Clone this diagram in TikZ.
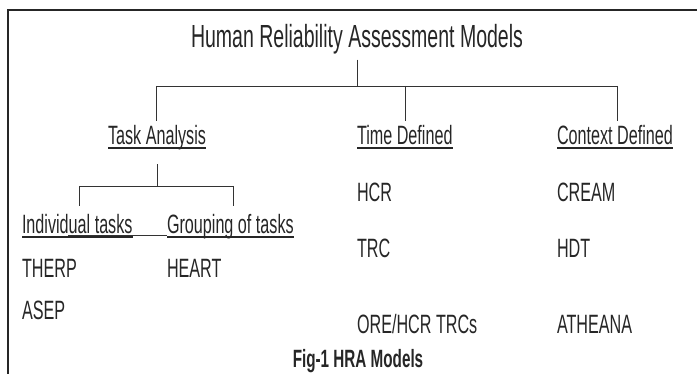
\documentclass[tikz,border=0pt]{standalone}
\usepackage{fontspec}
\setmainfont[FakeStretch=0.61]{Liberation Sans}
\begin{document}
\begin{tikzpicture}[x=1pt,y=-1pt,
  lbl/.style={inner sep=0pt,outer sep=0pt,text=black!85,font=\fontsize{26.5}{26.5}\selectfont},
  head/.style={lbl},
  uline/.style={line width=1.6pt,black!85},
  tree/.style={line width=0.8pt,black!80},
  frame/.style={line width=1.2pt,black!85}]
\useasboundingbox (0,0) rectangle (697,374);
% open frame: left and top edges only
\coordinate (fbl) at (8,374);
\coordinate (ftl) at (8,10);
\coordinate (ftr) at (697,10);
\draw[frame] (fbl) -- (ftl) -- (ftr);

% headings
\node[lbl,anchor=base,font=\fontsize{32}{32}\selectfont] (title) at (357,48) {Human Reliability Assessment Models};
\node[head,anchor=base] (ta) at (157,145) {Task Analysis};
\node[head,anchor=base west] (td) at (357,145) {Time Defined};
\node[head,anchor=base west] (cd) at (557,145) {Context Defined};
\node[head,anchor=base west] (it) at (22,234) {Individual tasks};
\node[head,anchor=base west] (gt) at (167,234) {Grouping of tasks};

% model lists
\node[lbl,anchor=base west] (therp) at (22,278) {THERP};
\node[lbl,anchor=base west] (asep) at (22,320) {ASEP};
\node[lbl,anchor=base west] (heart) at (167,278) {HEART};
\node[lbl,anchor=base west] (hcr) at (357,202) {HCR};
\node[lbl,anchor=base west] (trc) at (357,258) {TRC};
\node[lbl,anchor=base west] (ore) at (357,334) {ORE/HCR TRCs};
\node[lbl,anchor=base west] (cream) at (557,202) {CREAM};
\node[lbl,anchor=base west] (hdt) at (557,258) {HDT};
\node[lbl,anchor=base west] (ath) at (557,334) {ATHEANA};

% caption
\node[lbl,anchor=base,font=\fontsize{25}{25}\selectfont\bfseries] (cap) at (358,367) {Fig-1 HRA Models};

% underlines of the headings
\foreach \n in {ta,td,cd,it,gt}
  \draw[uline] ([yshift=-3pt]\n.base west) -- ([yshift=-3pt]\n.base east);
\draw[line width=0.6pt,black!80] ([xshift=46pt,yshift=-1.5pt]it.base west) -- ([yshift=-1.5pt]gt.base west);

% top-level tree
\coordinate (j0) at (357,86);
\coordinate (jl) at (156,86);
\coordinate (jm) at (405,86);
\coordinate (jr) at (617,86);
\draw[tree] ([yshift=-5pt]title.south) -- (j0);
\draw[tree] (jl) -- (jr);
\draw[tree] (jl) -- ([yshift=5pt]ta.north -| jl);
\draw[tree] (jm) -- ([yshift=5pt]td.north -| jm);
\draw[tree] (jr) -- ([yshift=5pt]cd.north -| jr);

% task analysis sub-tree
\coordinate (j1) at (157,186);
\coordinate (j1l) at (79,186);
\coordinate (j1r) at (233,186);
\draw[tree] ([yshift=-14pt]ta.south) -- (j1);
\draw[tree] (j1l) -- (j1r);
\draw[tree] (j1l) -- ([yshift=9pt]it.north -| j1l);
\draw[tree] (j1r) -- ([yshift=9pt]gt.north -| j1r);
\end{tikzpicture}
\end{document}
